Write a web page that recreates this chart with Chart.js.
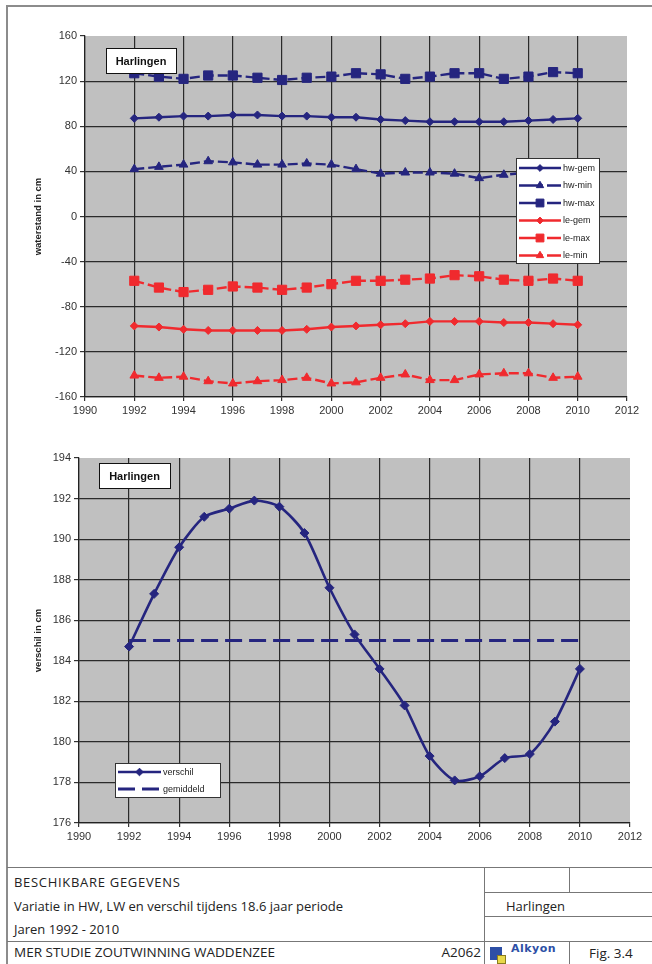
<!DOCTYPE html>
<html>
<head>
<meta charset="utf-8">
<script src="https://cdn.jsdelivr.net/npm/chart.js@4.4.1/dist/chart.umd.min.js"></script>
<style>
    html, body { margin: 0; padding: 0; background: #fff; }
    body { width: 652px; height: 964px; position: relative; overflow: hidden; font-family: 'Liberation Sans', Arial, sans-serif; }
    .frame { position: absolute; left: 6px; top: 5px; width: 700px; height: 1000px; border-left: 2px solid #8c8c8c; border-top: 2px solid #8c8c8c; }
    canvas { position: absolute; left: 0; }
    #levelsChart { top: 0; }
    #diffChart { top: 430px; }
    .hl { position: absolute; height: 0; border-top: 1.5px solid #777; }
    .vl { position: absolute; width: 0; border-left: 1.5px solid #777; }
    .ft { position: absolute; font-family: 'Open Sans', Lato, sans-serif; font-size: 13px; color: #222; line-height: 16px; white-space: nowrap; }
    .big { font-size: 13.5px; }
    .logo-a { position: absolute; left: 490px; top: 947px; width: 12px; height: 13px; background: #2d4fa6; }
    .logo-b { position: absolute; left: 497px; top: 955px; width: 7px; height: 7px; background: #e8d84a; border: 1px solid #8a7d20; }
    .logo-t { position: absolute; left: 511px; top: 942px; font: bold 11px 'DejaVu Sans', sans-serif; color: #2d4fa6; letter-spacing: 0.5px; }
</style>
</head>
<body>
<div class="frame"></div>
<canvas id="levelsChart" width="652" height="430"></canvas>
<canvas id="diffChart" width="652" height="420"></canvas>

<div class="hl" style="left:7px; top:867px; width:645px;"></div>
<div class="hl" style="left:7px; top:941px; width:645px;"></div>
<div class="hl" style="left:484px; top:892px; width:168px;"></div>
<div class="hl" style="left:484px; top:916px; width:168px;"></div>
<div class="vl" style="left:484px; top:867px; height:97px;"></div>
<div class="vl" style="left:569px; top:867px; height:25px;"></div>
<div class="vl" style="left:569px; top:941px; height:23px;"></div>

<div class="ft" style="left:14px; top:874px; letter-spacing:0.7px;">BESCHIKBARE GEGEVENS</div>
<div class="ft" style="left:14px; top:898px;">Variatie in HW, LW en verschil tijdens 18.6 jaar periode</div>
<div class="ft" style="left:14px; top:921px;">Jaren 1992 - 2010</div>
<div class="ft big" style="left:14px; top:944px;">MER STUDIE ZOUTWINNING WADDENZEE</div>
<div class="ft big" style="right:171px; top:944px;">A2062</div>
<div class="ft" style="left:506px; top:898px;">Harlingen</div>
<div class="ft" style="left:589px; top:945px; font-size:13.5px;">Fig. 3.4</div>
<div class="logo-a"></div>
<div class="logo-b"></div>
<div class="logo-t">Alkyon</div>

<script>
const years = [1992, 1993, 1994, 1995, 1996, 1997, 1998, 1999, 2000, 2001, 2002, 2003, 2004, 2005, 2006, 2007, 2008, 2009, 2010];

const hwGem = [87, 88, 89, 89, 90, 90, 89, 89, 88, 88, 86, 85, 84, 84, 84, 84, 85, 86, 87];
const hwMin = [42, 44, 46, 49, 48, 46, 46, 47, 46, 42, 38, 39, 39, 38, 34, 37, 39, 40, 40];
const hwMax = [127, 124, 122, 125, 125, 123, 121, 123, 124, 127, 126, 122, 124, 127, 127, 122, 124, 128, 127];
const leGem = [-97, -98, -100, -101, -101, -101, -101, -100, -98, -97, -96, -95, -93, -93, -93, -94, -94, -95, -96];
const leMax = [-57, -63, -67, -65, -62, -63, -65, -63, -60, -57, -57, -56, -55, -52, -53, -56, -57, -55, -57];
const leMin = [-141, -143, -142, -146, -148, -146, -145, -143, -148, -147, -143, -140, -145, -145, -140, -139, -139, -143, -142];

const verschil = [184.7, 187.3, 189.6, 191.1, 191.5, 191.9, 191.6, 190.3, 187.6, 185.3, 183.6, 181.8, 179.3, 178.1, 178.3, 179.2, 179.4, 181.0, 183.6];
const gemiddeld = [185, 185, 185, 185, 185, 185, 185, 185, 185, 185, 185, 185, 185, 185, 185, 185, 185, 185, 185];

const xRange = [1990, 2012, 2];
const levelRange = [-160, 160, 40];
const diffRange = [176, 194, 2];

const navy = '#25257f';
const red = '#f02a2e';
const plotGray = '#c0c0c0';
const gridDark = '#2a2a2a';
const fontFamily = "'Liberation Sans', Arial, sans-serif";

function toPoints(values) {
    return years.map((year, i) => ({ x: year, y: values[i] }));
}

function series(label, values, color, style, radius, dash, extra) {
    return Object.assign({
        label,
        data: toPoints(values),
        borderColor: color,
        backgroundColor: color,
        pointBackgroundColor: color,
        pointBorderColor: color,
        borderWidth: 2.4,
        borderDash: dash || [],
        pointStyle: style,
        pointRadius: radius,
        pointHoverRadius: radius,
        pointBorderWidth: 1,
        tension: 0,
        clip: false
    }, extra || {});
}

// gray plot area, station tag and boxed legend inside the plot
const plotDecor = {
    id: 'plotDecor',
    beforeDraw(chart, args, opts) {
        const { ctx, chartArea: a } = chart;
        ctx.save();
        ctx.fillStyle = plotGray;
        ctx.fillRect(a.left, a.top, a.width, a.height);
        ctx.restore();
    },
    afterDraw(chart, args, opts) {
        const { ctx, chartArea: a } = chart;
        const tag = opts.tag;
        ctx.save();
        ctx.fillStyle = '#fff';
        ctx.strokeStyle = '#111';
        ctx.lineWidth = 1;
        ctx.fillRect(a.left + tag.dx, a.top + tag.dy, tag.w, tag.h);
        ctx.strokeRect(a.left + tag.dx + 0.5, a.top + tag.dy + 0.5, tag.w, tag.h);
        ctx.fillStyle = '#111';
        ctx.font = 'bold 11px ' + fontFamily;
        ctx.textAlign = 'center';
        ctx.textBaseline = 'middle';
        ctx.fillText(tag.text, a.left + tag.dx + tag.w / 2, a.top + tag.dy + tag.h / 2 + 1);

        const lg = opts.legend;
        const bx = a.left + lg.dx;
        const by = a.top + lg.dy;
        ctx.fillStyle = '#fff';
        ctx.fillRect(bx, by, lg.w, lg.h);
        ctx.strokeStyle = '#333';
        ctx.strokeRect(bx + 0.5, by + 0.5, lg.w, lg.h);

        chart.data.datasets.forEach((ds, i) => {
            const y = by + lg.first + i * lg.row;
            const x0 = bx + 3;
            const x1 = x0 + lg.sample;
            ctx.save();
            ctx.strokeStyle = ds.borderColor;
            ctx.lineWidth = ds.borderWidth;
            ctx.setLineDash(lg.dashes[i] || []);
            ctx.beginPath();
            ctx.moveTo(x0, y);
            ctx.lineTo(x1, y);
            ctx.stroke();
            ctx.restore();
            if (ds.pointRadius > 0 && Chart.helpers && Chart.helpers.drawPoint) {
                ctx.save();
                ctx.fillStyle = ds.borderColor;
                ctx.strokeStyle = ds.borderColor;
                ctx.lineWidth = 1;
                Chart.helpers.drawPoint(ctx, { pointStyle: ds.pointStyle, radius: ds.pointRadius * 0.85, rotation: 0, borderWidth: 1 }, (x0 + x1) / 2, y);
                ctx.restore();
            }
            ctx.fillStyle = '#222';
            ctx.font = '9px ' + fontFamily;
            ctx.textAlign = 'left';
            ctx.textBaseline = 'middle';
            ctx.fillText(ds.label, x1 + 2, y + 0.5);
        });
        ctx.restore();
    }
};

function gridColorFor(maxValue) {
    return (c) => (c.tick && c.tick.value === maxValue ? 'rgba(0,0,0,0)' : gridDark);
}

function buildScales(yRange, yTitle, yWidth, xHeight) {
    const tickFont = { family: fontFamily, size: 11 };
    return {
        x: {
            type: 'linear',
            min: xRange[0],
            max: xRange[1],
            ticks: { stepSize: xRange[2], color: '#333', font: tickFont, padding: 3, maxRotation: 0, autoSkip: false, callback: (v) => String(v) },
            grid: { color: gridColorFor(xRange[1]), lineWidth: 1.2, tickLength: 4, tickColor: '#333' },
            border: { color: '#222', width: 1.2 },
            afterFit: (scale) => { scale.height = xHeight; }
        },
        y: {
            type: 'linear',
            min: yRange[0],
            max: yRange[1],
            ticks: { stepSize: yRange[2], color: '#333', font: tickFont, padding: 3, callback: (v) => String(v) },
            grid: { color: gridColorFor(yRange[1]), lineWidth: 1.2, tickLength: 5, tickColor: '#333' },
            border: { color: '#222', width: 1.2 },
            title: { display: true, text: yTitle, color: '#222', font: { family: fontFamily, size: 9.5, weight: 'bold' }, padding: { top: 33, bottom: 0 } },
            afterFit: (scale) => { scale.width = yWidth; }
        }
    };
}

const baseOptions = {
    responsive: false,
    animation: false,
    events: []
};

new Chart(document.getElementById('levelsChart').getContext('2d'), {
    type: 'line',
    data: {
        datasets: [
            series('hw-gem', hwGem, navy, 'rectRot', 4),
            series('hw-min', hwMin, navy, 'triangle', 5, [10, 4]),
            series('hw-max', hwMax, navy, 'rect', 6.5, [10, 4]),
            series('le-gem', leGem, red, 'rectRot', 4),
            series('le-max', leMax, red, 'rect', 6.5, [10, 4]),
            series('le-min', leMin, red, 'triangle', 5, [10, 4])
        ]
    },
    options: Object.assign({}, baseOptions, {
        layout: { padding: { top: 36, right: 25, bottom: 0, left: 0 } },
        scales: buildScales(levelRange, 'waterstand in cm', 85, 33),
        plugins: {
            legend: { display: false },
            tooltip: { enabled: false },
            plotDecor: {
                tag: { text: 'Harlingen', dx: 21, dy: 12, w: 70, h: 25 },
                legend: { dx: 431, dy: 122, w: 83, h: 105, first: 10, row: 17.5, sample: 42, dashes: [[], [24, 4], [24, 4], [], [24, 4], [24, 4]] }
            }
        }
    }),
    plugins: [plotDecor]
});

new Chart(document.getElementById('diffChart').getContext('2d'), {
    type: 'line',
    data: {
        datasets: [
            series('verschil', verschil, navy, 'rectRot', 4.5, [], { borderWidth: 2.6, tension: 0.25 }),
            series('gemiddeld', gemiddeld, navy, 'circle', 0, [17, 7], { borderWidth: 3 })
        ]
    },
    options: Object.assign({}, baseOptions, {
        layout: { padding: { top: 28, right: 22, bottom: 0, left: 0 } },
        scales: buildScales(diffRange, 'verschil in cm', 79, 27),
        plugins: {
            legend: { display: false },
            tooltip: { enabled: false },
            plotDecor: {
                tag: { text: 'Harlingen', dx: 20, dy: 5, w: 71, h: 25 },
                legend: { dx: 36, dy: 305, w: 105, h: 34, first: 9, row: 17, sample: 43, dashes: [[], [17, 7]] }
            }
        }
    }),
    plugins: [plotDecor]
});
</script>
</body>
</html>
